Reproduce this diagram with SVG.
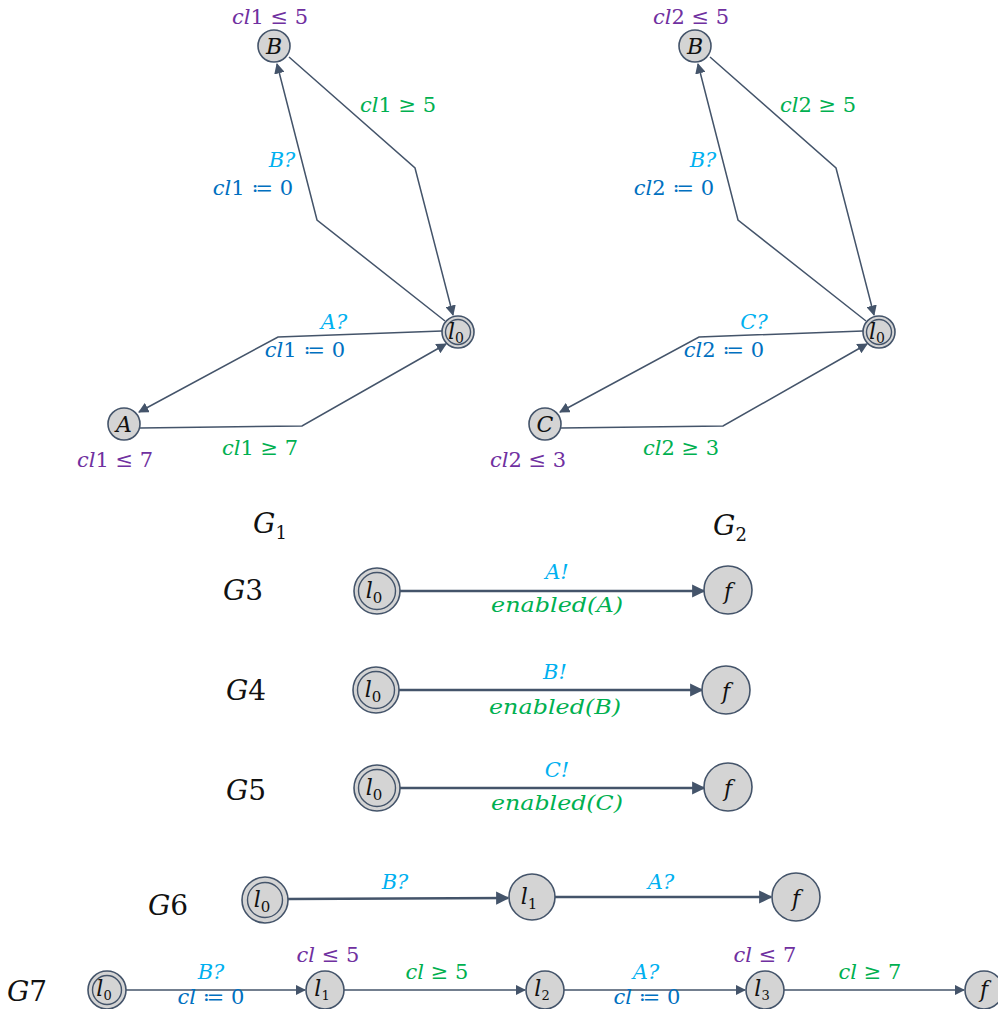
<svg xmlns="http://www.w3.org/2000/svg" width="998" height="1009" viewBox="0 0 998 1009">
<style>
text{font-family:"DejaVu Serif","Liberation Serif",serif;}
.i{font-style:italic;}
.pu{fill:#7030A0;font-size:21px;}
.gr{fill:#00B050;font-size:21px;}
.lb{fill:#00B0F0;font-size:21px;font-style:italic;}
.bl{fill:#0070C0;font-size:21px;}
.nd{fill:#D4D4D4;stroke:#44546A;stroke-width:1.6;}
.ndi{fill:none;stroke:#44546A;stroke-width:1.4;}
.nl{fill:#111;font-size:22px;font-style:italic;text-anchor:middle;}
.gl{fill:#111;font-size:28px;text-anchor:middle;}
.e1{fill:none;stroke:#44546A;stroke-width:1.5;marker-end:url(#ah);}
.e2{fill:none;stroke:#44546A;stroke-width:2.4;marker-end:url(#ah2);}
.m{text-anchor:middle;}
</style>
<defs>
<marker id="ah" viewBox="0 0 10 10" refX="9" refY="5" markerWidth="7" markerHeight="7" orient="auto" markerUnits="strokeWidth"><path d="M0,0 L10,5 L0,10 z" fill="#44546A"/></marker>
<marker id="ah2" viewBox="0 0 10 10" refX="9" refY="5" markerWidth="5.5" markerHeight="5.5" orient="auto" markerUnits="strokeWidth"><path d="M0,0 L10,5 L0,10 z" fill="#44546A"/></marker>
</defs>

<!-- connectors -->
<g id="connectors">
<path class="e1" d="M289,57 L415,168 L453,315"/>
<path class="e1" d="M445,321 L317,220 L277,64"/>
<path class="e1" d="M442,331 L278,337 L139,412"/>
<path class="e1" d="M140,428 L302,426 L446,344"/>
<path class="e1" d="M710,57 L836,168 L874,315"/>
<path class="e1" d="M866,321 L738,220 L698,64"/>
<path class="e1" d="M863,331 L699,337 L560,412"/>
<path class="e1" d="M561,428 L723,426 L867,344"/>
<path class="e2" d="M400,591 L704,591"/>
<path class="e2" d="M399,690 L702,690"/>
<path class="e2" d="M400,788 L704,788"/>
<path class="e2" d="M288,899 L508,898"/>
<path class="e2" d="M555,897 L771,897"/>
<path class="e1" d="M126,990 L305,990"/>
<path class="e1" d="M344,990 L525,990"/>
<path class="e1" d="M564,990 L745,990"/>
<path class="e1" d="M784,990 L964,990"/>
</g>

<!-- edge labels G1 -->
<g id="labels-g1">
<text class="gr m" x="398" y="112"><tspan class="i">cl</tspan>1 ≥ 5</text>
<text class="lb m" x="282" y="167">B?</text>
<text class="bl m" x="253" y="195"><tspan class="i">cl</tspan>1 ≔ 0</text>
<text class="lb m" x="334" y="329">A?</text>
<text class="bl m" x="305" y="357"><tspan class="i">cl</tspan>1 ≔ 0</text>
<text class="gr m" x="260" y="455"><tspan class="i">cl</tspan>1 ≥ 7</text>
</g>
<g id="labels-g2">
<text class="gr m" x="818" y="112"><tspan class="i">cl</tspan>2 ≥ 5</text>
<text class="lb m" x="703" y="167">B?</text>
<text class="bl m" x="674" y="195"><tspan class="i">cl</tspan>2 ≔ 0</text>
<text class="lb m" x="754" y="329">C?</text>
<text class="bl m" x="724" y="357"><tspan class="i">cl</tspan>2 ≔ 0</text>
<text class="gr m" x="681" y="455"><tspan class="i">cl</tspan>2 ≥ 3</text>
</g>

<!-- G1 nodes -->
<g id="g1-B">
<circle class="nd" cx="274" cy="46" r="16"/>
<text class="nl" x="274" y="54">B</text>
<text class="pu m" x="270" y="24"><tspan class="i">cl</tspan>1 ≤ 5</text>
</g>
<g id="g1-l0">
<circle class="nd" cx="458" cy="332" r="16"/>
<circle class="ndi" cx="458" cy="332" r="12.5"/>
<text class="nl" x="456" y="339">l<tspan font-size="14" font-style="normal" dy="4">0</tspan></text>
</g>
<g id="g1-A">
<circle class="nd" cx="124" cy="424" r="16"/>
<text class="nl" x="124" y="432">A</text>
<text class="pu m" x="115" y="467"><tspan class="i">cl</tspan>1 ≤ 7</text>
</g>

<!-- G2 nodes -->
<g id="g2-B">
<circle class="nd" cx="695" cy="46" r="16"/>
<text class="nl" x="695" y="54">B</text>
<text class="pu m" x="691" y="24"><tspan class="i">cl</tspan>2 ≤ 5</text>
</g>
<g id="g2-l0">
<circle class="nd" cx="879" cy="332" r="16"/>
<circle class="ndi" cx="879" cy="332" r="12.5"/>
<text class="nl" x="877" y="339">l<tspan font-size="14" font-style="normal" dy="4">0</tspan></text>
</g>
<g id="g2-C">
<circle class="nd" cx="545" cy="424" r="16"/>
<text class="nl" x="545" y="432">C</text>
<text class="pu m" x="528" y="467"><tspan class="i">cl</tspan>2 ≤ 3</text>
</g>

<g id="title-g1"><text class="gl" x="270" y="533"><tspan class="i">G</tspan><tspan font-size="18" dy="6">1</tspan></text></g>
<g id="title-g2"><text class="gl" x="730" y="535"><tspan class="i">G</tspan><tspan font-size="18" dy="6">2</tspan></text></g>

<!-- G3 -->
<g id="title-g3"><text class="gl" x="243" y="600"><tspan class="i">G</tspan>3</text></g>
<g id="g3-l0">
<circle class="nd" cx="377" cy="591" r="23"/>
<circle class="ndi" cx="377" cy="591" r="18.5"/>
<text class="nl" x="374" y="598" font-size="24">l<tspan font-size="15" font-style="normal" dy="5">0</tspan></text>
</g>
<g id="g3-f">
<circle class="nd" cx="728" cy="590" r="24"/>
<text class="nl" x="728" y="599" font-size="24">f</text>
</g>
<text class="lb m" x="557" y="579">A!</text>
<text class="gr m i" x="557" y="612" textLength="132" lengthAdjust="spacingAndGlyphs">enabled(A)</text>

<!-- G4 -->
<g id="title-g4"><text class="gl" x="246" y="700"><tspan class="i">G</tspan>4</text></g>
<g id="g4-l0">
<circle class="nd" cx="376" cy="690" r="23"/>
<circle class="ndi" cx="376" cy="690" r="18.5"/>
<text class="nl" x="373" y="697" font-size="24">l<tspan font-size="15" font-style="normal" dy="5">0</tspan></text>
</g>
<g id="g4-f">
<circle class="nd" cx="726" cy="690" r="24"/>
<text class="nl" x="726" y="699" font-size="24">f</text>
</g>
<text class="lb m" x="555" y="679">B!</text>
<text class="gr m i" x="555" y="714" textLength="132" lengthAdjust="spacingAndGlyphs">enabled(B)</text>

<!-- G5 -->
<g id="title-g5"><text class="gl" x="246" y="800"><tspan class="i">G</tspan>5</text></g>
<g id="g5-l0">
<circle class="nd" cx="377" cy="788" r="23"/>
<circle class="ndi" cx="377" cy="788" r="18.5"/>
<text class="nl" x="374" y="795" font-size="24">l<tspan font-size="15" font-style="normal" dy="5">0</tspan></text>
</g>
<g id="g5-f">
<circle class="nd" cx="728" cy="787" r="24"/>
<text class="nl" x="728" y="796" font-size="24">f</text>
</g>
<text class="lb m" x="557" y="777">C!</text>
<text class="gr m i" x="557" y="810" textLength="132" lengthAdjust="spacingAndGlyphs">enabled(C)</text>

<!-- G6 -->
<g id="title-g6"><text class="gl" x="168" y="915" font-size="29"><tspan class="i">G</tspan>6</text></g>
<g id="g6-l0">
<circle class="nd" cx="265" cy="900" r="23" stroke-width="2.5"/>
<circle class="ndi" cx="265" cy="900" r="17.5" stroke-width="2"/>
<text class="nl" x="262" y="907" font-size="24">l<tspan font-size="15" font-style="normal" dy="5">0</tspan></text>
</g>
<g id="g6-l1">
<circle class="nd" cx="532" cy="897" r="23"/>
<text class="nl" x="529" y="904" font-size="24">l<tspan font-size="15" font-style="normal" dy="5">1</tspan></text>
</g>
<g id="g6-f">
<circle class="nd" cx="796" cy="897" r="24"/>
<text class="nl" x="796" y="906" font-size="24">f</text>
</g>
<text class="lb m" x="395" y="889">B?</text>
<text class="lb m" x="661" y="889">A?</text>

<!-- G7 -->
<g id="title-g7"><text class="gl" x="27" y="1001" font-size="23"><tspan class="i">G</tspan>7</text></g>
<g id="g7-l0">
<circle class="nd" cx="107" cy="990" r="19" stroke-width="2.2"/>
<circle class="ndi" cx="107" cy="990" r="14.5"/>
<text class="nl" x="104" y="996" font-size="20">l<tspan font-size="13" font-style="normal" dy="4">0</tspan></text>
</g>
<g id="g7-l1">
<circle class="nd" cx="325" cy="990" r="19"/>
<text class="nl" x="322" y="996" font-size="20">l<tspan font-size="13" font-style="normal" dy="4">1</tspan></text>
<text class="pu m" x="328" y="962" font-size="19"><tspan class="i">cl</tspan> ≤ 5</text>
</g>
<g id="g7-l2">
<circle class="nd" cx="545" cy="990" r="19"/>
<text class="nl" x="542" y="996" font-size="20">l<tspan font-size="13" font-style="normal" dy="4">2</tspan></text>
</g>
<g id="g7-l3">
<circle class="nd" cx="765" cy="990" r="19"/>
<text class="nl" x="762" y="996" font-size="20">l<tspan font-size="13" font-style="normal" dy="4">3</tspan></text>
<text class="pu m" x="765" y="962" font-size="19"><tspan class="i">cl</tspan> ≤ 7</text>
</g>
<g id="g7-f">
<circle class="nd" cx="984" cy="990" r="19"/>
<text class="nl" x="984" y="997" font-size="20">f</text>
</g>
<text class="lb m" x="211" y="979" font-size="19">B?</text>
<text class="bl m" x="211" y="1004" font-size="19"><tspan class="i">cl</tspan> ≔ 0</text>
<text class="gr m" x="437" y="979" font-size="19"><tspan class="i">cl</tspan> ≥ 5</text>
<text class="lb m" x="646" y="979" font-size="19">A?</text>
<text class="bl m" x="647" y="1004" font-size="19"><tspan class="i">cl</tspan> ≔ 0</text>
<text class="gr m" x="870" y="979" font-size="19"><tspan class="i">cl</tspan> ≥ 7</text>
</svg>
